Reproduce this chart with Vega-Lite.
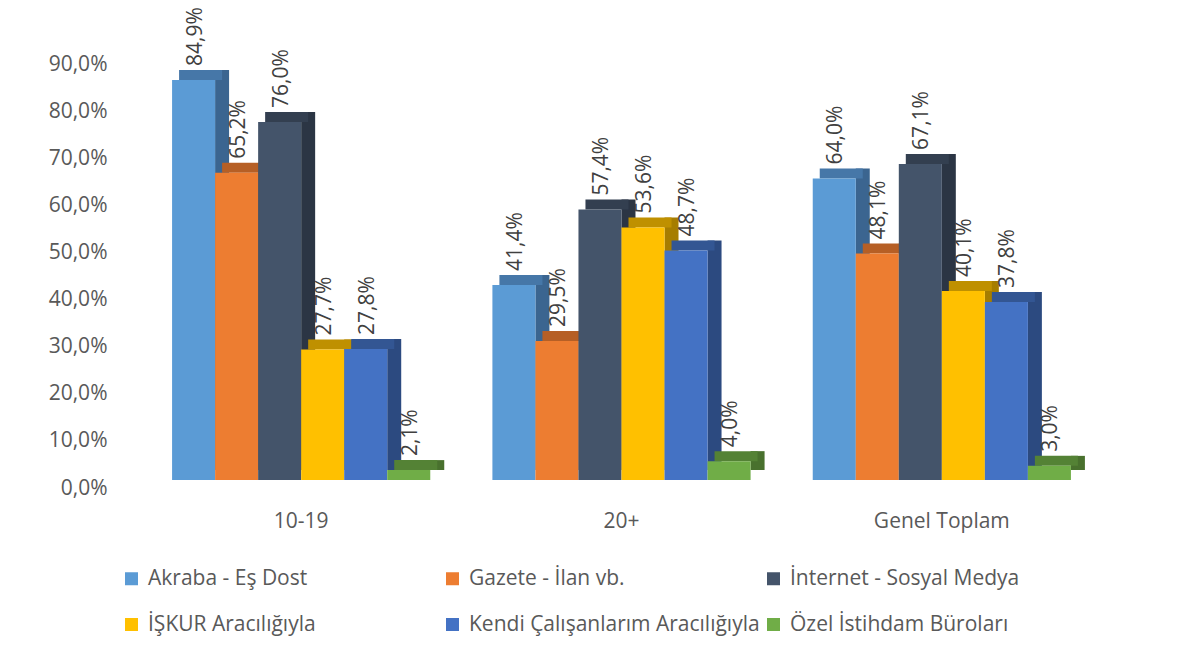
{
  "$schema": "https://vega.github.io/schema/vega-lite/v6.json",
  "width": 961,
  "height": 424,
  "autosize": {"type": "none"},
  "padding": {"left": 141, "top": 64, "right": 78, "bottom": 170},
  "background": "#ffffff",
  "config": {
    "locale": {"number": {"decimal": ",", "thousands": ".", "grouping": [3], "currency": ["", " TL"]}},
    "view": {"stroke": null},
    "font": "Open Sans",
    "axis": {"labelFont": "Open Sans", "labelFontSize": 21, "labelColor": "#595959", "domain": false, "ticks": false, "tickSize": 0, "grid": false, "title": null},
    "legend": {"labelFont": "Open Sans", "labelFontSize": 21, "labelColor": "#595959"}
  },
  "data": {
    "values": [
      {"grup": "10-19", "kanal": "Akraba - Eş Dost", "oran": 0.849},
      {"grup": "10-19", "kanal": "Gazete - İlan vb.", "oran": 0.652},
      {"grup": "10-19", "kanal": "İnternet - Sosyal Medya", "oran": 0.760},
      {"grup": "10-19", "kanal": "İŞKUR Aracılığıyla", "oran": 0.277},
      {"grup": "10-19", "kanal": "Kendi Çalışanlarım Aracılığıyla", "oran": 0.278},
      {"grup": "10-19", "kanal": "Özel İstihdam Büroları", "oran": 0.021},
      {"grup": "20+", "kanal": "Akraba - Eş Dost", "oran": 0.414},
      {"grup": "20+", "kanal": "Gazete - İlan vb.", "oran": 0.295},
      {"grup": "20+", "kanal": "İnternet - Sosyal Medya", "oran": 0.574},
      {"grup": "20+", "kanal": "İŞKUR Aracılığıyla", "oran": 0.536},
      {"grup": "20+", "kanal": "Kendi Çalışanlarım Aracılığıyla", "oran": 0.487},
      {"grup": "20+", "kanal": "Özel İstihdam Büroları", "oran": 0.040},
      {"grup": "Genel Toplam", "kanal": "Akraba - Eş Dost", "oran": 0.640},
      {"grup": "Genel Toplam", "kanal": "Gazete - İlan vb.", "oran": 0.481},
      {"grup": "Genel Toplam", "kanal": "İnternet - Sosyal Medya", "oran": 0.671},
      {"grup": "Genel Toplam", "kanal": "İŞKUR Aracılığıyla", "oran": 0.401},
      {"grup": "Genel Toplam", "kanal": "Kendi Çalışanlarım Aracılığıyla", "oran": 0.378},
      {"grup": "Genel Toplam", "kanal": "Özel İstihdam Büroları", "oran": 0.030}
    ]
  },
  "encoding": {
    "xOffset": {"field": "kanal", "type": "nominal", "sort": null,
                "scale": {"paddingInner": 0, "paddingOuter": 0}},
    "y": {"field": "oran", "type": "quantitative",
          "scale": {"domain": [0, 0.9], "nice": false, "zero": true},
          "axis": {"format": ".1%", "values": [0, 0.1, 0.2, 0.3, 0.4, 0.5, 0.6, 0.7, 0.8, 0.9], "labelPadding": 34}}
  },
  "layer": [
    {
      "mark": {"type": "bar", "width": 14, "yOffset": -18, "y2Offset": -18},
      "encoding": {
        "x": {"field": "grup", "type": "nominal", "sort": null, "axis": null,
              "scale": {"paddingInner": 0.194, "paddingOuter": 0.097, "range": [28.5, 989.5]}},
        "color": {"field": "kanal", "type": "nominal", "legend": null,
                  "scale": {"domain": ["Akraba - Eş Dost", "Gazete - İlan vb.", "İnternet - Sosyal Medya", "İŞKUR Aracılığıyla", "Kendi Çalışanlarım Aracılığıyla", "Özel İstihdam Büroları"],
                            "range": ["#3B6590", "#A05020", "#2B3544", "#A67D00", "#2C4A80", "#49712E"]}}
      }
    },
    {
      "mark": {"type": "bar", "yOffset": -18, "y2Offset": -8},
      "encoding": {
        "x": {"field": "grup", "type": "nominal", "sort": null, "axis": null,
              "scale": {"paddingInner": 0.194, "paddingOuter": 0.097, "range": [7, 968]}},
        "y2": {"field": "oran"},
        "color": {"field": "kanal", "type": "nominal", "legend": null,
                  "scale": {"domain": ["Akraba - Eş Dost", "Gazete - İlan vb.", "İnternet - Sosyal Medya", "İŞKUR Aracılığıyla", "Kendi Çalışanlarım Aracılığıyla", "Özel İstihdam Büroları"],
                            "range": ["#4677A8", "#B65F25", "#333F50", "#BF9000", "#335693", "#548235"]}}
      }
    },
    {
      "encoding": {
        "x": {"field": "grup", "type": "nominal", "sort": null,
              "scale": {"paddingInner": 0.194, "paddingOuter": 0.097},
              "axis": {"labelAngle": 0, "labelPadding": 22, "orient": "bottom"}}
      },
      "layer": [
        {
          "mark": {"type": "bar", "yOffset": -8, "y2Offset": -8},
          "encoding": {
            "color": {"field": "kanal", "type": "nominal",
                      "scale": {"domain": ["Akraba - Eş Dost", "Gazete - İlan vb.", "İnternet - Sosyal Medya", "İŞKUR Aracılığıyla", "Kendi Çalışanlarım Aracılığıyla", "Özel İstihdam Büroları"],
                                "range": ["#5B9BD5", "#ED7D31", "#44546A", "#FFC000", "#4472C4", "#70AD47"]},
                      "legend": {"title": null, "orient": "none", "direction": "horizontal", "legendX": -20, "legendY": 504, "columns": 3, "gridAlign": "all", "columnPadding": 3, "rowPadding": 24, "symbolType": "square", "symbolSize": 169, "symbolStrokeWidth": 0, "labelOffset": 6, "labelLimit": 400}}
          }
        },
        {
          "mark": {"type": "text", "angle": -90, "align": "left", "baseline": "middle", "yOffset": -22, "dy": 2, "fontSize": 21, "font": "Open Sans", "color": "#404040"},
          "encoding": {
            "text": {"field": "oran", "type": "quantitative", "format": ".1%"}
          }
        }
      ]
    }
  ],
  "resolve": {"scale": {"color": "independent", "x": "independent", "xOffset": "independent"}}
}
